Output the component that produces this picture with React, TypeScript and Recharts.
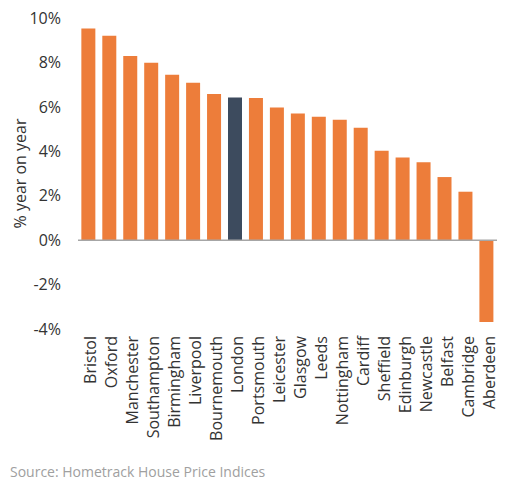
import { BarChart, Bar, XAxis, YAxis, Cell, ReferenceLine } from "recharts";

const cities = [
  "Bristol", "Oxford", "Manchester", "Southampton", "Birmingham", "Liverpool",
  "Bournemouth", "London", "Portsmouth", "Leicester", "Glasgow", "Leeds",
  "Nottingham", "Cardiff", "Sheffield", "Edinburgh", "Newcastle", "Belfast",
  "Cambridge", "Aberdeen",
];
const growth = [
  9.53, 9.2, 8.29, 7.98, 7.45, 7.09, 6.58, 6.42, 6.4, 5.97, 5.7, 5.55, 5.42,
  5.06, 4.02, 3.72, 3.51, 2.84, 2.18, -3.69,
];
const yTicks = [-4, -2, 0, 2, 4, 6, 8, 10];
const highlight = "London";

const data = cities.map((name, i) => ({ name, value: growth[i] }));

const font = "'Open Sans', sans-serif";

// rotated city label, reads bottom-to-top
function CityTick({ x, y, payload }: any) {
  return (
    <text
      x={x}
      y={y + 7}
      dy={8}
      transform={`rotate(-90, ${x}, ${y + 7})`}
      textAnchor="end"
      fill="#333"
      fontSize={16}
      fontFamily={font}
    >
      {payload.value}
    </text>
  );
}

export default function App() {
  return (
    <div style={{ position: "absolute", left: 0, top: 0, width: 516, height: 490, background: "#fff", fontFamily: font }}>
      <BarChart
        width={516}
        height={460}
        data={data}
        margin={{ top: 18, right: 19, bottom: 0, left: 0 }}
        barCategoryGap="16%"
      >
        <XAxis
          dataKey="name"
          interval={0}
          axisLine={false}
          tickLine={false}
          tickSize={0}
          tickMargin={0}
          height={131}
          tick={<CityTick />}
        />
        <YAxis
          domain={[-4, 10]}
          ticks={yTicks}
          interval={0}
          width={78}
          axisLine={false}
          tickLine={false}
          tickSize={0}
          tickMargin={17}
          tickFormatter={(v: number) => `${v}%`}
          tick={{ fill: "#333", fontSize: 16, fontFamily: font }}
          label={{
            value: "% year on year",
            angle: -90,
            position: "insideLeft",
            offset: 20,
            style: { textAnchor: "middle", fill: "#333", fontSize: 16, fontFamily: font },
          }}
        />
        <ReferenceLine y={0} stroke="#a6a6a6" strokeWidth={1.5} />
        <Bar dataKey="value" isAnimationActive={false}>
          {data.map((d) => (
            <Cell key={d.name} fill={d.name === highlight ? "#3d4b5e" : "#ed7d3a"} />
          ))}
        </Bar>
      </BarChart>
      <div style={{ position: "absolute", left: 10, top: 462, fontSize: 14, color: "#a0a0a0" }}>
        Source: Hometrack House Price Indices
      </div>
    </div>
  );
}
